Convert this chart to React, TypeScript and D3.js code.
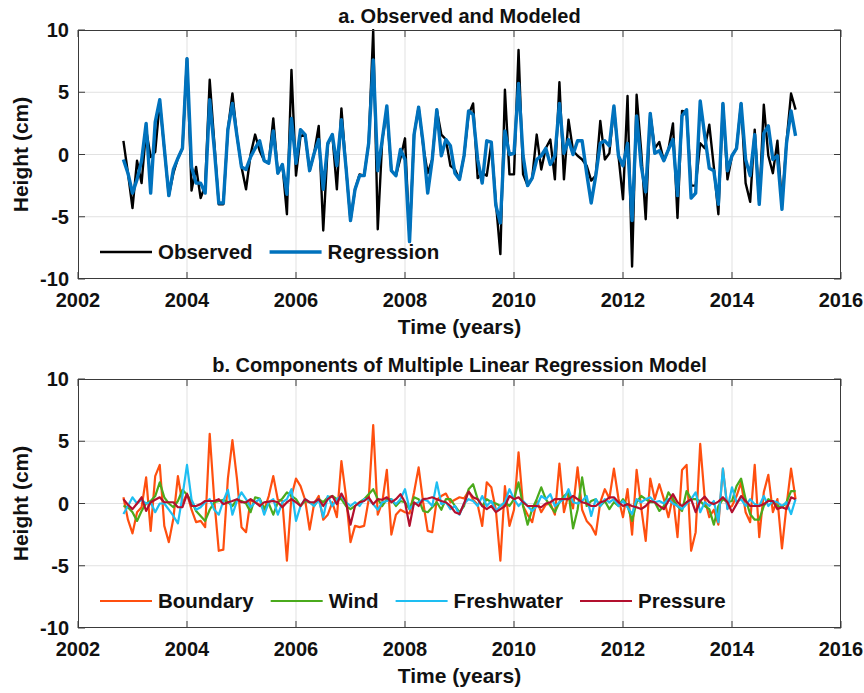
import React, { useEffect, useRef } from 'react';
import * as d3 from 'd3';

// monthly series, first month Nov 2002
const startYear = 2002 + 10 / 12;

const observed = [
  1.1, -1.5, -4.3, -0.5, -2.3, 2.0, -0.2, 0.2, 4.2, 0.5,
  -3.3, -1.5, -0.3, 0.5, 7.7, -2.9, -1.0, -3.5, -2.5, 6.0,
  1.0, -4.0, -4.0, 2.0, 4.9, 1.5, -1.0, -2.8, 0.0, 1.6,
  0.3, -0.5, -0.7, 2.9, -1.5, -0.8, -4.8, 6.8, -1.7, 1.5,
  1.6, -1.3, 0.1, 2.3, -6.1, 0.8, 1.6, -2.8, 3.7, -1.0,
  -5.3, -2.8, -1.6, -1.7, 0.9, 10.0, -6.0, 1.2, 3.5, -1.3,
  -1.7, -0.3, 1.3, -6.8, 1.6, 3.8, 0.7, -1.5, -0.4, 3.6,
  1.6, 1.2, -0.9, -1.2, -2.0, -0.1, 3.2, 4.1, -1.9, -1.5,
  -1.7, 0.9, -3.8, -8.0, 5.2, -1.6, -1.6, 8.4, -1.6, -2.5,
  -1.9, 1.6, -1.2, 0.5, 1.2, -2.0, 5.8, -2.0, 2.8, 0.3,
  -0.1, -0.4, -0.9, -2.1, -1.7, 2.7, -0.4, 0.1, 3.8, -0.1,
  -3.6, 4.7, -9.0, 4.8, 0.3, -5.2, 3.3, 0.5, 1.0, -0.5,
  0.4, 2.5, -5.1, 3.5, 3.4, -2.5, -2.5, 0.9, 0.5, 2.4,
  -1.0, -4.8, 4.1, -2.0, -0.1, 0.5, 4.1, -2.3, -3.8, 2.0,
  -3.9, 4.0, -0.1, -1.5, 1.1, -4.0, 1.0, 4.9, 3.6,
];

const regression = [
  -0.4, -1.5, -3.1, -2.0, -0.5, 2.5, -3.1, 2.6, 4.4, 0.5,
  -3.3, -1.2, -0.3, 0.5, 7.7, -1.0, -2.3, -2.3, -3.1, 4.4,
  0.5, -3.9, -3.9, 2.0, 4.1, 1.5, -1.0, -1.2, -0.2, 0.5,
  1.1, -0.5, -0.7, 1.9, -1.5, -0.8, -3.2, 2.9, -0.7, 2.0,
  1.6, -1.3, 0.1, 1.2, -2.8, 0.9, 1.6, -0.9, 2.8, -1.0,
  -5.3, -2.8, -1.7, -1.7, 0.9, 7.6, -1.3, 1.2, 3.9, -1.3,
  -1.7, 0.4, -0.4, -7.0, 1.6, 3.8, 0.9, -3.1, -0.4, 3.6,
  -0.1, 1.2, 0.7, -1.5, -2.0, -0.1, 3.5, 3.2, -0.4, -2.3,
  1.1, 1.0, -4.1, -5.5, 1.9, 0.0, 0.1, 5.7, -0.1, -2.5,
  -1.9, -0.4, -0.1, 0.5, -0.8, -0.1, 4.1, 0.1, 1.2, 0.0,
  1.1, 1.1, -1.5, -3.9, -1.7, 0.9, 1.1, 0.7, 3.9, -0.1,
  -0.9, 0.9, -5.3, 3.1, -0.9, -3.0, 3.3, 0.1, 0.3, -0.5,
  0.4, 1.2, -3.3, 3.1, 3.6, -3.5, -3.1, 4.3, 1.5, -1.1,
  -1.3, -4.0, 4.1, -1.3, -0.1, 0.5, 4.1, -0.4, -1.7, 1.6,
  -4.0, 1.7, 2.3, -0.4, -0.1, -4.4, 0.9, 3.5, 1.5,
];

const boundary = [
  0.5, -1.3, -2.4, -0.7, -0.3, 2.1, -2.2, 2.2, 3.1, -1.8,
  -3.1, -1.2, 2.2, 0.0, 0.8, -0.5, -1.5, -1.4, -1.9, 5.6,
  0.3, -3.8, -3.7, 2.0, 5.1, 2.0, -1.9, -2.3, 0.3, 0.1,
  -0.1, -0.5, 0.6, 2.2, 0.3, 0.2, -4.6, 0.6, 2.0, 1.4,
  0.3, -2.1, 0.0, 0.6, -1.3, -0.9, 0.1, -1.1, 3.4, 0.6,
  -3.1, -1.8, -1.9, -1.8, 0.3, 6.3, -0.9, 0.1, 2.7, -2.5,
  -0.9, -0.5, -0.7, -0.8, 0.9, 2.9, 0.1, -2.2, -2.3, 0.3,
  0.6, 0.8, 0.1, 0.3, 0.5, 0.4, 1.0, 0.3, -0.1, -1.8,
  1.7, 1.3, -0.5, -4.6, 1.4, -1.8, -0.5, 4.1, -0.2, -0.9,
  -1.5, 0.2, -0.7, -0.1, 0.0, -0.9, 3.2, -0.7, 0.75, -0.4,
  2.9, -0.5, -1.4, -1.8, -2.5, 0.1, 1.15, 0.4, 2.8, 0.4,
  -1.1, 1.15, -2.5, 2.7, -0.3, -3.0, 2.0, 0.35, 1.55, 0.35,
  -1.1, 0.6, -2.7, 2.7, 3.1, -3.8, -2.3, 4.8, 0.35, -1.1,
  -0.5, -1.7, 2.8, -0.4, -0.2, 0.6, 1.7, -0.7, -1.5, 3.1,
  -2.7, 0.9, 2.3, -0.7, 0.35, -3.6, -0.2, 2.8, 0.35,
];

const wind = [
  -0.2, -0.3, -0.7, -1.4, -0.6, 0.0, 0.2, 0.6, 1.7, 0.5,
  0.0, -0.3, 0.2, 1.1, 0.7, 0.2, -0.6, -1.0, -1.4, -0.5,
  0.1, 0.2, 0.3, 0.1, -0.2, 0.3, 0.2, 0.0, -0.7, 0.5,
  0.4, -0.4, 0.0, -0.9, 0.1, 0.4, 0.9, 0.6, 0.35, -0.2,
  0.2, 0.1, -0.2, 0.35, 0.1, 0.5, 0.6, 0.35, 0.35, -0.2,
  -0.45, -0.2, 0.1, 0.35, 0.75, 1.15, 0.35, -0.2, 0.35, 0.35,
  -0.2, 0.2, 0.1, -0.45, 0.5, 0.35, -0.6, -0.7, -0.3, 0.1,
  -0.5, 0.35, 0.35, -0.2, -0.7, -0.2, 1.15, 1.55, 0.35, -0.2,
  0.35, 0.1, 0.0, -0.2, 0.1, -0.2, 0.35, 1.7, -0.2, -1.7,
  -0.45, 0.35, 1.3, 0.35, -0.2, -0.7, 0.1, 0.6, 0.9, -2.0,
  -0.5, 2.1, -0.2, 0.2, 0.35, -0.2, 0.2, -0.45, 0.1, -0.2,
  0.35, -0.2, -1.4, 0.1, 0.6, 0.35, 0.1, 0.1, -0.6, -0.2,
  0.9, 0.35, -0.2, -0.6, 1.0, 0.35, 0.35, 0.2, -0.2, -0.45,
  -1.7, -0.2, 0.35, 0.1, 0.2, 1.4, 2.0, 0.35, -0.85, -1.3,
  -1.3, -0.2, 0.35, 0.1, -0.2, -0.3, 0.1, 1.0, 1.0,
];

const freshwater = [
  -0.85, -0.2, 0.5, 0.0, 0.3, 0.0, 0.1, -0.7, 0.0, 0.0,
  -0.5, -1.0, -1.6, 0.6, 3.1, 0.3, -0.5, -0.3, 0.1, 0.35,
  -0.5, -0.9, 0.2, 1.1, -0.9, 0.2, 0.9, 0.35, -0.3, 0.1,
  0.35, -0.9, 0.1, 0.35, -0.9, 0.1, 0.35, 1.15, -1.4, -0.2,
  0.35, 0.1, -0.2, 0.35, -1.1, 0.6, -0.2, 0.35, 0.6, 0.1,
  -0.2, 0.1, -0.2, 0.35, 0.35, -0.05, -0.5, 0.1, 0.2, 0.35,
  -0.05, 0.35, 1.15, -0.45, -0.05, 0.1, 0.35, 0.2, -0.2, 1.7,
  -0.05, 0.1, -0.45, -0.2, -0.9, 0.0, 0.35, 0.2, -0.2, 0.6,
  -0.2, 0.2, -0.6, -0.2, 0.1, 1.15, 0.35, -0.2, 0.2, -0.2,
  -0.6, -0.2, 0.6, 0.35, 0.75, -0.2, 0.1, 0.35, 1.15, 0.1,
  0.0, 0.2, 0.6, -1.0, 0.35, -0.2, 0.35, 0.1, 0.35, -0.2,
  0.2, -0.3, -0.85, 0.35, 0.1, 0.35, 0.5, 0.1, 0.2, 0.0,
  0.35, 0.0, -0.2, -0.45, -0.05, 0.35, 0.9, -0.7, 0.1, -0.2,
  0.2, -1.5, 2.8, -0.45, 1.3, 0.1, 0.35, -0.2, 0.35, -0.05,
  -0.2, 0.6, -0.2, 0.2, 0.1, -0.2, 0.1, -0.85, 0.35,
];

const pressure = [
  0.35, -0.1, -0.45, 0.0, 0.5, -0.6, 0.1, 0.3, 0.5, 0.1,
  0.1, 0.1, -0.3, -0.3, 0.75, -0.2, -0.2, -0.05, 0.2, 0.2,
  0.2, 0.35, -0.05, 0.1, 0.2, 0.35, 0.1, 0.1, 0.35, 0.1,
  -0.2, 0.1, 0.15, 0.2, 0.1, -0.3, 0.1, 0.35, 0.1, -0.2,
  0.35, 0.1, 0.1, 0.35, -0.2, 0.35, 0.6, -0.05, 0.8, 0.1,
  -1.7, -0.2, 0.1, 0.2, 0.5, -0.05, 0.35, 0.3, 0.5, 0.1,
  0.35, 0.75, 0.1, -1.8, 0.1, -0.2, 0.35, 0.4, 0.5, 0.35,
  0.2, 0.1, -0.2, -0.7, -0.85, 0.0, 0.95, 0.5, 0.35, -0.2,
  -0.45, -0.2, -0.7, -0.45, -0.2, 0.6, 0.35, 0.5, 0.1, -0.2,
  -0.2, -0.2, -0.3, 0.0, 0.1, 0.35, 0.35, 0.35, 0.35, 0.6,
  0.35, 0.1, 0.0, -0.2, -0.2, 0.1, 0.2, 0.5, 0.5, 0.1,
  -0.2, -0.05, -0.2, -0.3, -0.45, -0.2, 0.2, 0.1, -0.2, -0.45,
  0.2, 0.75, 0.1, -0.2, 0.1, 0.35, -0.7, 0.2, 0.55, 0.1,
  -0.05, 0.15, 0.5, 0.1, -0.7, -0.05, 0.6, 0.2, -0.2, -0.2,
  -0.2, -0.05, 0.2, 0.2, -0.45, -0.3, -0.45, 0.5, 0.35,
];

const yearTicks = [2002, 2004, 2006, 2008, 2010, 2012, 2014, 2016];
const heightTicks = [-10, -5, 0, 5, 10];

interface Series {
  name: string;
  values: number[];
  color: string;
  width: number;
}

const panels: { title: string; top: number; series: Series[] }[] = [
  {
    title: 'a. Observed and Modeled',
    top: 30,
    series: [
      { name: 'Observed', values: observed, color: '#000000', width: 2.4 },
      { name: 'Regression', values: regression, color: '#0072BD', width: 3.4 },
    ],
  },
  {
    title: 'b. Components of Multiple Linear Regression Model',
    top: 379,
    series: [
      { name: 'Boundary', values: boundary, color: '#FF4F0F', width: 2.2 },
      { name: 'Wind', values: wind, color: '#4AAA1C', width: 2.2 },
      { name: 'Freshwater', values: freshwater, color: '#1EBEF2', width: 2.2 },
      { name: 'Pressure', values: pressure, color: '#B3102E', width: 2.2 },
    ],
  },
];

const FONT = '"Liberation Sans", Arial, Helvetica, sans-serif';

export default function App() {
  const svgRef = useRef<SVGSVGElement>(null);

  useEffect(() => {
    document.body.style.margin = '0';
    if (!svgRef.current) return;

    const width = 864;
    const height = 693;
    const left = 78;
    const right = 841;
    const plotH = 249;

    const svg = d3.select(svgRef.current).attr('viewBox', [0, 0, width, height]);
    svg.selectAll('*').remove();

    const x = d3.scaleLinear().domain([2002, 2016]).range([left, right]);

    panels.forEach((panel, pi) => {
      const top = panel.top;
      const bottom = top + plotH;
      const y = d3.scaleLinear().domain([-10, 10]).range([bottom, top]);
      const g = svg.append('g');

      g.append('rect')
        .attr('x', left).attr('y', top)
        .attr('width', right - left).attr('height', plotH)
        .attr('fill', '#fff');

      // grid
      g.selectAll('.vgrid').data(yearTicks.slice(1, -1)).enter().append('line')
        .attr('x1', d => x(d)).attr('x2', d => x(d))
        .attr('y1', top).attr('y2', bottom)
        .attr('stroke', '#e1e1e1').attr('stroke-width', 1);
      g.selectAll('.hgrid').data(heightTicks.slice(1, -1)).enter().append('line')
        .attr('x1', left).attr('x2', right)
        .attr('y1', d => y(d)).attr('y2', d => y(d))
        .attr('stroke', '#e1e1e1').attr('stroke-width', 1);

      // series
      const clipId = `clip${pi}`;
      g.append('clipPath').attr('id', clipId).append('rect')
        .attr('x', left).attr('y', top - 1).attr('width', right - left).attr('height', plotH + 2);

      const line = d3.line<number>()
        .x((_, i) => x(startYear + i / 12))
        .y(d => y(d));

      panel.series.forEach(s => {
        g.append('path')
          .datum(s.values)
          .attr('clip-path', `url(#${clipId})`)
          .attr('fill', 'none')
          .attr('stroke', s.color)
          .attr('stroke-width', s.width)
          .attr('stroke-linejoin', 'round')
          .attr('d', line);
      });

      // box and ticks
      const axisColor = '#3a3a3a';
      g.append('rect')
        .attr('x', left + 0.5).attr('y', top + 0.5)
        .attr('width', right - left - 1).attr('height', plotH - 1)
        .attr('fill', 'none').attr('stroke', axisColor).attr('stroke-width', 1);

      const tl = 7;
      yearTicks.forEach(t => {
        g.append('line').attr('x1', x(t)).attr('x2', x(t)).attr('y1', bottom).attr('y2', bottom - tl)
          .attr('stroke', axisColor);
        g.append('line').attr('x1', x(t)).attr('x2', x(t)).attr('y1', top).attr('y2', top + tl)
          .attr('stroke', axisColor);
        g.append('text')
          .attr('x', x(t)).attr('y', bottom + 28)
          .attr('text-anchor', 'middle')
          .attr('font-family', FONT).attr('font-weight', 'bold').attr('font-size', 20)
          .attr('fill', '#111')
          .text(t);
      });
      heightTicks.forEach(v => {
        g.append('line').attr('x1', left).attr('x2', left + tl).attr('y1', y(v)).attr('y2', y(v))
          .attr('stroke', axisColor);
        g.append('line').attr('x1', right).attr('x2', right - tl).attr('y1', y(v)).attr('y2', y(v))
          .attr('stroke', axisColor);
        g.append('text')
          .attr('x', left - 9).attr('y', y(v) + 7)
          .attr('text-anchor', 'end')
          .attr('font-family', FONT).attr('font-weight', 'bold').attr('font-size', 20)
          .attr('fill', '#111')
          .text(v);
      });

      // labels
      g.append('text')
        .attr('x', (left + right) / 2).attr('y', top - 7)
        .attr('text-anchor', 'middle')
        .attr('font-family', FONT).attr('font-weight', 'bold').attr('font-size', 20)
        .attr('fill', '#111')
        .text(panel.title);
      g.append('text')
        .attr('x', (left + right) / 2).attr('y', bottom + 55)
        .attr('text-anchor', 'middle')
        .attr('font-family', FONT).attr('font-weight', 'bold').attr('font-size', 21)
        .attr('fill', '#111')
        .text('Time (years)');
      g.append('text')
        .attr('transform', `translate(28,${(top + bottom) / 2}) rotate(-90)`)
        .attr('text-anchor', 'middle')
        .attr('font-family', FONT).attr('font-weight', 'bold').attr('font-size', 21)
        .attr('fill', '#111')
        .text('Height (cm)');

      // legend
      const ly = bottom - 27;
      let lx = 100;
      panel.series.forEach(s => {
        g.append('line')
          .attr('x1', lx).attr('x2', lx + 52)
          .attr('y1', ly).attr('y2', ly)
          .attr('stroke', s.color).attr('stroke-width', s.width);
        const txt = g.append('text')
          .attr('x', lx + 58).attr('y', ly + 7)
          .attr('font-family', FONT).attr('font-weight', 'bold').attr('font-size', 20.5)
          .attr('fill', '#111')
          .text(s.name);
        const w = (txt.node() as SVGTextElement).getComputedTextLength();
        lx += 58 + w + 17;
      });
    });
  }, []);

  return <svg ref={svgRef} width={864} height={693} style={{ display: 'block', background: '#fff' }} />;
}
